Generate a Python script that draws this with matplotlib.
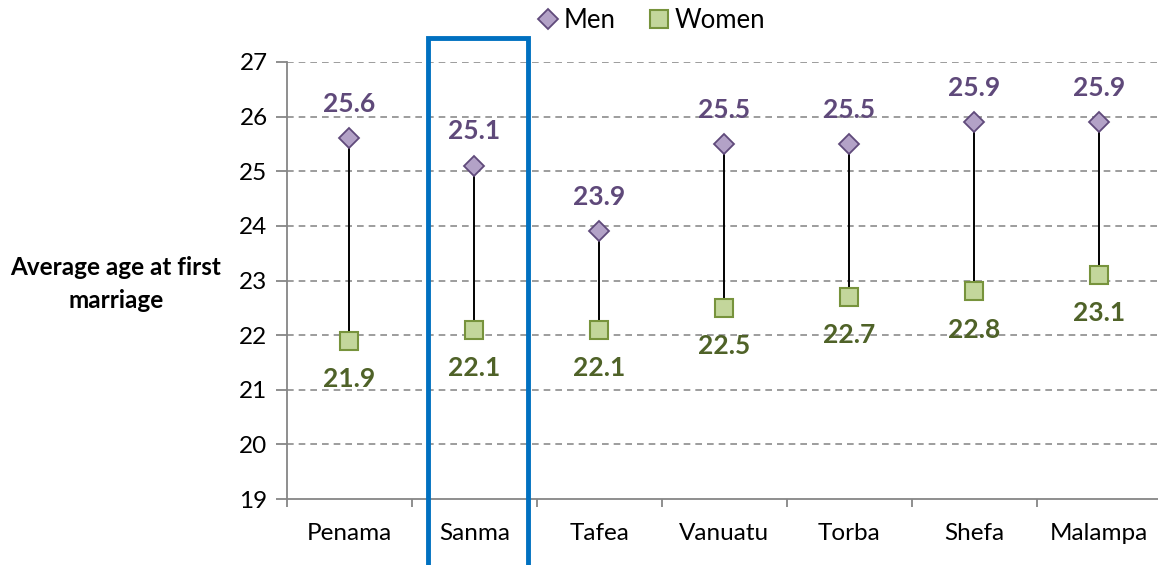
import numpy as np
import matplotlib.pyplot as plt
from matplotlib.patches import Rectangle

plt.rcParams['font.family'] = ['Lato', 'DejaVu Sans']

regions = ["Penama", "Sanma", "Tafea", "Vanuatu", "Torba", "Shefa", "Malampa"]
men = [25.6, 25.1, 23.9, 25.5, 25.5, 25.9, 25.9]
women = [21.9, 22.1, 22.1, 22.5, 22.7, 22.8, 23.1]
highlight = "Sanma"

fig = plt.figure(figsize=(11.58, 5.65), dpi=100)
ax = fig.add_axes([287/1158, 66/565, 874.5/1158, 437/565])
x = np.arange(len(regions))

ax.vlines(x, women, men, color='black', lw=1.4, zorder=2)
ax.plot(x, men, 'D', ms=10, mfc='#B3A2C7', mec='#604A7B', mew=1.3, ls='none', label='Men', zorder=3)
ax.plot(x, women, 's', ms=13, mfc='#C3D69B', mec='#77933C', mew=1.5, ls='none', label='Women', zorder=3)

for xi, m, w in zip(x, men, women):
    ax.annotate(f"{m:.1f}", (xi, m), xytext=(0, 19), textcoords='offset points',
                ha='center', va='baseline', fontsize=19, fontweight='bold', color='#5F497A')
    ax.annotate(f"{w:.1f}", (xi, w), xytext=(0, -19), textcoords='offset points',
                ha='center', va='top', fontsize=19, fontweight='bold', color='#4F6228')

ax.set_xlim(-0.5, len(regions) - 0.5)
ax.set_ylim(19, 27)
ax.set_yticks(range(19, 28))
ax.set_xticks(x)
ax.set_xticklabels(regions)
ax.set_xticks(np.arange(-0.5, len(regions)), minor=True)
ax.tick_params(axis='x', which='major', length=0, pad=17, labelsize=17.5)
ax.tick_params(axis='x', which='minor', length=6, color='#868686', width=1.3)
ax.tick_params(axis='y', length=8, color='#868686', width=1.3, labelsize=17.5, pad=6)
for yv in range(20, 28):
    ax.axhline(yv, color='#8c8c8c', lw=1.2, ls=(0, (4, 3)), zorder=1)
for s in ['top', 'right']:
    ax.spines[s].set_visible(False)
for s in ['left', 'bottom']:
    ax.spines[s].set_color('#868686')
    ax.spines[s].set_linewidth(1.3)

fig.text(116/1158, 1 - 284/565, "Average age at first\nmarriage", ha='center', va='center',
         fontsize=17.5, fontweight='bold', linespacing=1.5)

rect = Rectangle((428/1158, -0.05), 100/1158, 1 - 38/565 + 0.05, transform=fig.transFigure,
                 fill=False, ec='#0070C0', lw=3.5, clip_on=False)
fig.add_artist(rect)

fig.legend(loc='center', bbox_to_anchor=(650/1158, 1 - 20/565), ncol=2, frameon=False,
           fontsize=18.5, handletextpad=0.1, columnspacing=1.2, handlelength=1.0)

fig.savefig('out.png', dpi=100)
